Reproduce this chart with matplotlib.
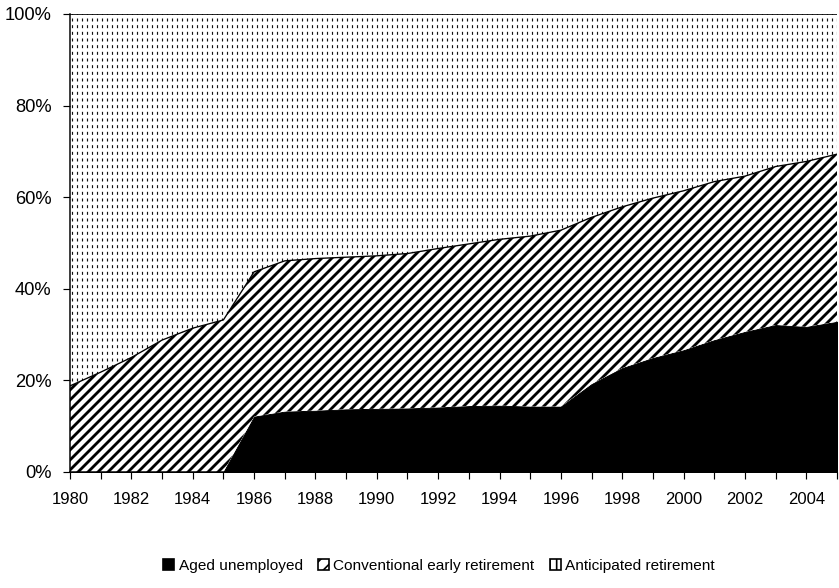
import numpy as np
import matplotlib
matplotlib.use('Agg')
import matplotlib.pyplot as plt
from matplotlib.patches import Patch

# Shares of early exits by route (% of total)
years = list(range(1980, 2006))
aged_unemployed = [0, 0, 0, 0, 0, 0, 12.1, 13.2, 13.4, 13.7, 13.8, 13.9, 14.1,
                   14.4, 14.5, 14.3, 14.3, 19.2, 22.7, 24.9, 26.6, 28.8, 30.6,
                   32.1, 31.7, 32.8]
conventional = [18.8, 21.8, 25.0, 28.8, 31.4, 33.2, 31.6, 32.9, 33.2, 33.2,
                33.4, 33.8, 34.7, 35.4, 36.3, 37.2, 38.5, 36.4, 35.2, 34.9,
                34.8, 34.6, 34.0, 34.6, 36.1, 36.6]
anticipated = [81.2, 78.2, 75.0, 71.2, 68.6, 66.8, 56.3, 53.9, 53.4, 53.1,
               52.8, 52.3, 51.2, 50.2, 49.2, 48.5, 47.2, 44.4, 42.1, 40.2,
               38.6, 36.6, 35.4, 33.3, 32.2, 30.6]
labels = ['Aged unemployed', 'Conventional early retirement', 'Anticipated retirement']

plt.rcParams['font.family'] = ['Liberation Sans', 'DejaVu Sans']
plt.rcParams['font.size'] = 10

DPI = 120

x = np.array(years)
l1 = np.array(aged_unemployed)
l2 = l1 + np.array(conventional)
l3 = l2 + np.array(anticipated)

fig = plt.figure(figsize=(839 / DPI, 588 / DPI), dpi=DPI)
ax = fig.add_axes([70 / 839, 116 / 588, 767 / 839, 458 / 588])

# aged unemployed - solid black
ax.fill_between(x, 0, l1, facecolor='black', edgecolor='black', linewidth=0.6)

# conventional early retirement - diagonal hatch
p = ax.fill_between(x, l1, l2, facecolor='white', edgecolor='black',
                    hatch='////', linewidth=0)
p.set_hatch_linewidth(1.7)

# anticipated retirement - vertical lines cut by white bands -> dash texture
p = ax.fill_between(x, l2, l3, facecolor='white', edgecolor='#111111',
                    hatch='||||', linewidth=0)
p.set_hatch_linewidth(0.7)
p = ax.fill_between(x, l2, l3, facecolor='none', edgecolor='white',
                    hatch='---', linewidth=0)
p.set_hatch_linewidth(2.2)
ax.plot(x, l2, color='black', linewidth=0.8)
ax.plot(x, l3, color='black', linewidth=1.0)

ax.set_xlim(1980, 2005)
ax.set_ylim(0, 100)
ax.set_xticks(years)
ax.set_xticklabels([str(y) if y % 2 == 0 else '' for y in years], fontsize=10)
ax.set_yticks([0, 20, 40, 60, 80, 100])
ax.set_yticklabels(['0%', '20%', '40%', '60%', '80%', '100%'], fontsize=11)
ax.tick_params(axis='both', direction='out', length=4, width=0.7, color='black')
ax.tick_params(axis='x', pad=8)
ax.tick_params(axis='y', pad=7)
for s in ['top', 'right']:
    ax.spines[s].set_visible(False)
ax.spines['left'].set_linewidth(0.9)
ax.spines['bottom'].set_linewidth(0.9)

h_conv = Patch(facecolor='white', edgecolor='black', hatch='///')
h_conv.set_hatch_linewidth(1.2)
h_ant = Patch(facecolor='white', edgecolor='black', hatch='|||')
h_ant.set_hatch_linewidth(0.8)
handles = [Patch(facecolor='black', edgecolor='black'), h_conv, h_ant]
fig.legend(handles, labels, loc='center', bbox_to_anchor=(439 / 839, 22 / 588),
           ncol=3, frameon=False, handlelength=0.7, handleheight=0.7,
           handletextpad=0.3, columnspacing=1.0, fontsize=9.2)

fig.savefig('out.png', dpi=DPI)
